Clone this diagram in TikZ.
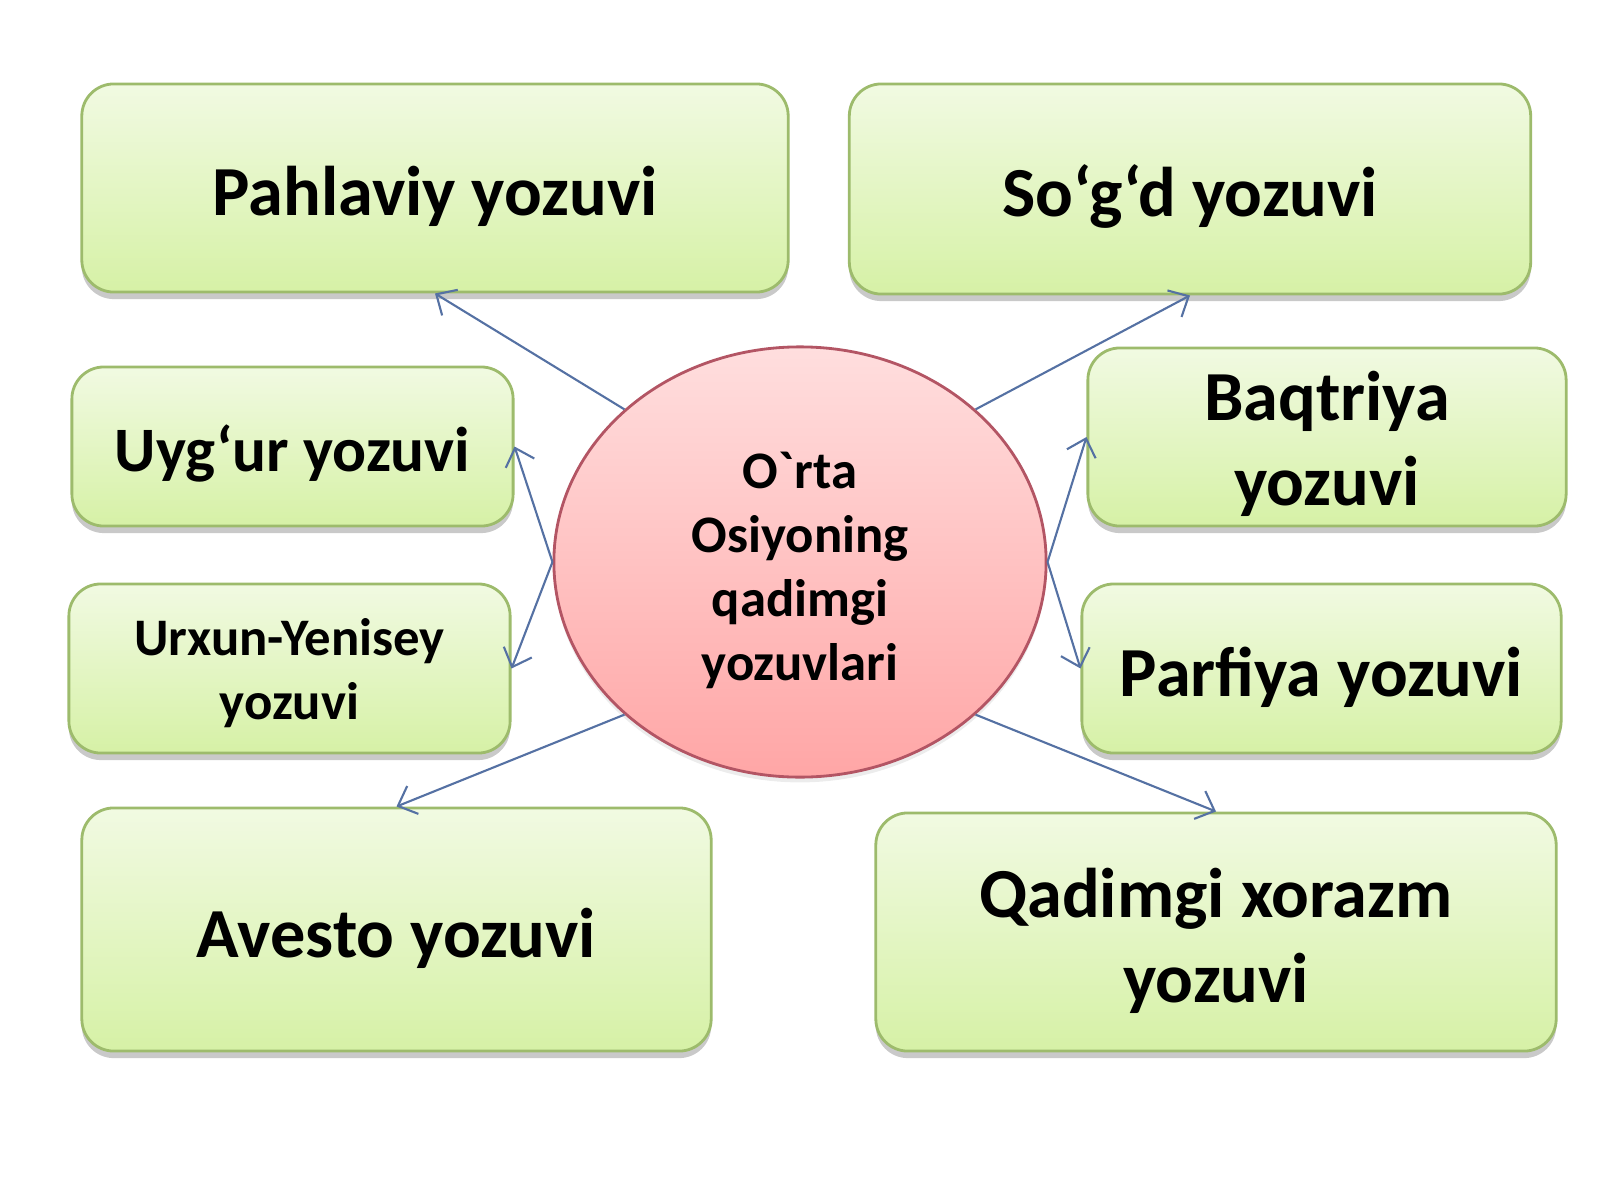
\documentclass[tikz,border=0pt]{standalone}
\usepackage{fontspec}
\usepackage{tikz}
\usetikzlibrary{shapes.geometric,shadows,arrows.meta}
\newfontfamily\boxfont{Carlito}
\newcommand\lift[1]{\rule{0pt}{#1em}}
\definecolor{boxtop}{HTML}{F1FAE2}
\definecolor{boxbot}{HTML}{D6F1A6}
\definecolor{boxline}{HTML}{9DBB6C}
\definecolor{hubtop}{HTML}{FFDEDE}
\definecolor{hubbot}{HTML}{FFA6A6}
\definecolor{hubline}{HTML}{B35564}
\definecolor{linkcol}{HTML}{5571A3}
\tikzset{
  script/.style={draw=boxline, line width=0.8pt, rounded corners=0.32cm,
    top color=boxtop, bottom color=boxbot, align=center, inner sep=0pt,
    font=\boxfont\bfseries\fontsize{20}{24}\selectfont,
    drop shadow={shadow xshift=0pt, shadow yshift=-2pt, opacity=0.3, fill=black!70}},
  hub/.style={ellipse, draw=hubline, line width=0.8pt, top color=hubtop,
    bottom color=hubbot, align=center, inner sep=0pt,
    minimum width=4.92cm, minimum height=4.3cm,
    drop shadow={shadow xshift=0pt, shadow yshift=-1.5pt, opacity=0.15, fill=black!50},
    font=\boxfont\bfseries\fontsize{15}{18.2}\selectfont},
  link/.style={draw=linkcol, line width=0.6pt, -{Straight Barb[length=1.6mm,width=3mm]}}
}
\begin{document}
\begin{tikzpicture}[x=0.01cm, y=-0.01cm]
    \useasboundingbox (0,0) rectangle (1600,1200);
    \node[script, minimum width=7.06cm, minimum height=2.08cm] (pah) at (435,188) {\lift{0.95}Pahlaviy yozuvi};
    \node[script, minimum width=6.81cm, minimum height=2.10cm] (sog) at (1190,189) {\lift{0.95}So‘g‘d yozuvi};
    \node[script, minimum width=4.41cm, minimum height=1.59cm,
      font=\boxfont\bfseries\fontsize{18}{22}\selectfont] (uyg) at (292.5,446.5) {\lift{0.95}Uyg‘ur yozuvi};
    \node[script, minimum width=4.78cm, minimum height=1.78cm] (baq) at (1327,437) {\lift{0.9}Baqtriya\\yozuvi};
    \node[script, minimum width=4.41cm, minimum height=1.69cm,
      font=\boxfont\bfseries\fontsize{15}{18.2}\selectfont] (urx) at (289.5,668.5) {\lift{0.88}Urxun-Yenisey\\yozuvi};
    \node[script, minimum width=4.79cm, minimum height=1.69cm] (par) at (1321.5,668.5) {\lift{0.95}Parfiya yozuvi};
    \node[script, minimum width=6.29cm, minimum height=2.43cm] (ave) at (396.5,929.5) {\lift{0.95}Avesto yozuvi};
    \node[script, minimum width=6.80cm, minimum height=2.38cm] (qad) at (1216,932) {\lift{0.95}Qadimgi xorazm\\yozuvi};
    \node[hub] (hub) at (800,562) {\lift{1.0}O`rta\\Osiyoning\\qadimgi\\yozuvlari};
    \draw[link] (hub.139) -- (pah.south);
    \draw[link] (hub.41) -- (sog.south);
    \draw[link] (hub.west) -- (uyg.east);
    \draw[link] (hub.west) -- (urx.east);
    \draw[link] (hub.east) -- (baq.west);
    \draw[link] (hub.east) -- (par.west);
    \draw[link] (hub.221) -- (ave.north);
    \draw[link] (hub.319) -- (qad.north);
\end{tikzpicture}
\end{document}
